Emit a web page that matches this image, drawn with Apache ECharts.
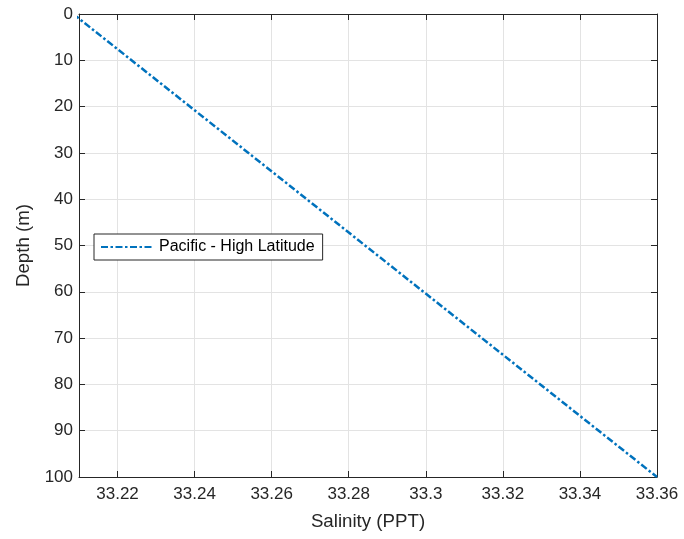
<!DOCTYPE html>
<html><head><meta charset="utf-8">
<script src="https://cdn.jsdelivr.net/npm/echarts@6/dist/echarts.min.js"></script>
<style>html,body{margin:0;padding:0;background:#fff}#c{width:684px;height:539px}</style>
</head><body><div id="c"></div>
<script>
const seriesName = 'Pacific - High Latitude';
const salinity = [33.2085, 33.36];
const depth = [0, 100];
const xTicks = [33.22, 33.24, 33.26, 33.28, 33.3, 33.32, 33.34, 33.36];
const yTicks = [0, 10, 20, 30, 40, 50, 60, 70, 80, 90, 100];

const axisCol = '#262626';
const font = 'Liberation Sans, Arial, Helvetica, sans-serif';
const chart = echarts.init(document.getElementById('c'), null, {renderer: 'canvas'});
const data = salinity.map((s, i) => [s, depth[i]]);
const fmtX = v => String(parseFloat(v.toFixed(2)));
const xBase = {
  type: 'value', min: 33.21, max: 33.36, interval: 0.01,
  axisLine: {show: true, onZero: false, lineStyle: {color: axisCol, width: 1}},
  axisTick: {show: true, inside: true, length: 6, lineStyle: {color: axisCol},
    customValues: xTicks},
  splitLine: {show: false},
};
const yBase = {
  type: 'value', min: 0, max: 100, interval: 10, inverse: true,
  axisLine: {show: true, onZero: false, lineStyle: {color: axisCol, width: 1}},
  axisTick: {show: true, inside: true, length: 6, lineStyle: {color: axisCol},
    customValues: yTicks},
  splitLine: {show: false},
};
chart.setOption({
  animation: false,
  grid: {left: 79, right: 27, top: 14, bottom: 62},
  legend: {
    left: 94, top: 234, orient: 'vertical',
    data: [seriesName],
    backgroundColor: '#fff', borderColor: axisCol, borderWidth: 1, borderRadius: 0,
    padding: [5, 8, 5, 6], itemWidth: 53, itemHeight: 14, itemGap: 4,
    itemStyle: {opacity: 0},
    textStyle: {fontFamily: font, fontSize: 16, color: '#000'}
  },
  xAxis: [
    Object.assign({}, xBase, {
      position: 'bottom',
      name: 'Salinity (PPT)', nameLocation: 'middle', nameGap: 35,
      nameTextStyle: {fontFamily: font, fontSize: 18.7, color: axisCol},
      axisLabel: {show: true, customValues: xTicks, formatter: fmtX, margin: 9,
        fontFamily: font, fontSize: 17, color: axisCol},
      splitLine: {show: true, lineStyle: {color: '#e3e3e3', width: 1}, customValues: xTicks}
    }),
    Object.assign({}, xBase, {position: 'top', axisLabel: {show: false}})
  ],
  yAxis: [
    Object.assign({}, yBase, {
      position: 'left',
      name: 'Depth (m)', nameLocation: 'middle', nameGap: 45,
      nameTextStyle: {fontFamily: font, fontSize: 18.7, color: axisCol},
      axisLabel: {show: true, margin: 6, fontFamily: font, fontSize: 17, color: axisCol,
        customValues: yTicks},
      splitLine: {show: true, lineStyle: {color: '#e3e3e3', width: 1}}
    }),
    Object.assign({}, yBase, {position: 'right', axisLabel: {show: false}})
  ],
  series: [{
    name: seriesName, type: 'line', data: data, symbol: 'none', showSymbol: false,
    xAxisIndex: 0, yAxisIndex: 0, clip: true,
    lineStyle: {color: '#0072BD', width: 2.5, type: [7, 2.5, 2.5, 2.5]},
    itemStyle: {color: '#0072BD'}
  }]
});
</script></body></html>
